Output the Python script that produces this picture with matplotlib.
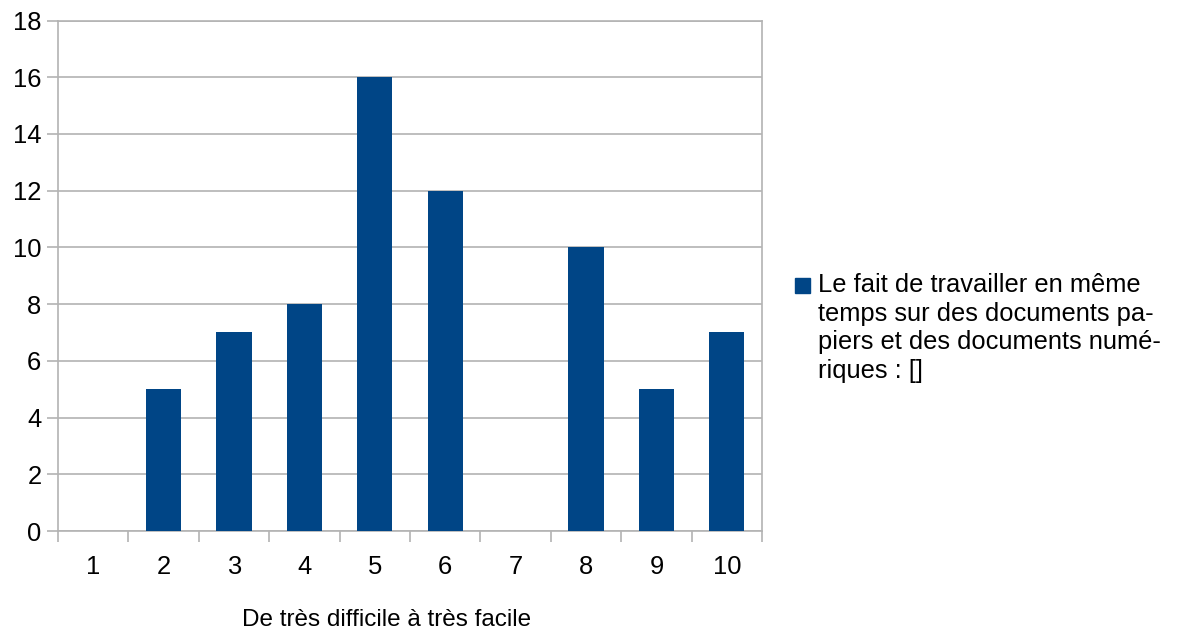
import matplotlib.pyplot as plt
from matplotlib.patches import Rectangle

plt.rcParams['font.family'] = ['Liberation Sans', 'DejaVu Sans']

categories = [1, 2, 3, 4, 5, 6, 7, 8, 9, 10]
values = [0, 5, 7, 8, 16, 12, 0, 10, 5, 7]
series_name = "Le fait de travailler en même\ntemps sur des documents pa-\npiers et des documents numé-\nriques : []"
x_title = "De très difficile à très facile"

bar_color = '#004586'
grid_color = '#b3b3b3'

fig = plt.figure(figsize=(11.8, 6.33), dpi=100)
axes = fig.add_axes([0.0492, 0.1611, 0.5966, 0.8065])

axes.bar(categories, values, width=0.5, color=bar_color, zorder=3)

axes.set_xlim(0.5, 10.5)
axes.set_ylim(0, 18)
axes.set_yticks(range(0, 19, 2))
axes.set_xticks(categories)
axes.set_xticks([c - 0.5 for c in categories] + [10.5], minor=True)

axes.grid(axis='y', color=grid_color, linewidth=1.2, zorder=0)
for s in axes.spines.values():
	s.set_color(grid_color)
	s.set_linewidth(1.2)

axes.tick_params(axis='y', which='major', length=8, width=1.2, color=grid_color,
	labelsize=18.4, pad=4)
axes.tick_params(axis='x', which='major', length=0, labelsize=18.4, pad=17)
axes.tick_params(axis='x', which='minor', length=8, width=1.2, color=grid_color)

axes.set_xlabel(x_title, fontsize=17.5)
axes.xaxis.set_label_coords(0.466, -0.153)

# légende dessinée à la main (carré aligné sur la première ligne)
fig.patches.append(Rectangle((795 / 1180, 1 - 293 / 633), 15 / 1180, 15 / 633,
	transform=fig.transFigure, color=bar_color))
fig.text(818 / 1180, 1 - 273 / 633, series_name, fontsize=18.4, va='top', ha='left',
	linespacing=1.24)

fig.savefig('out.png', dpi=100)
